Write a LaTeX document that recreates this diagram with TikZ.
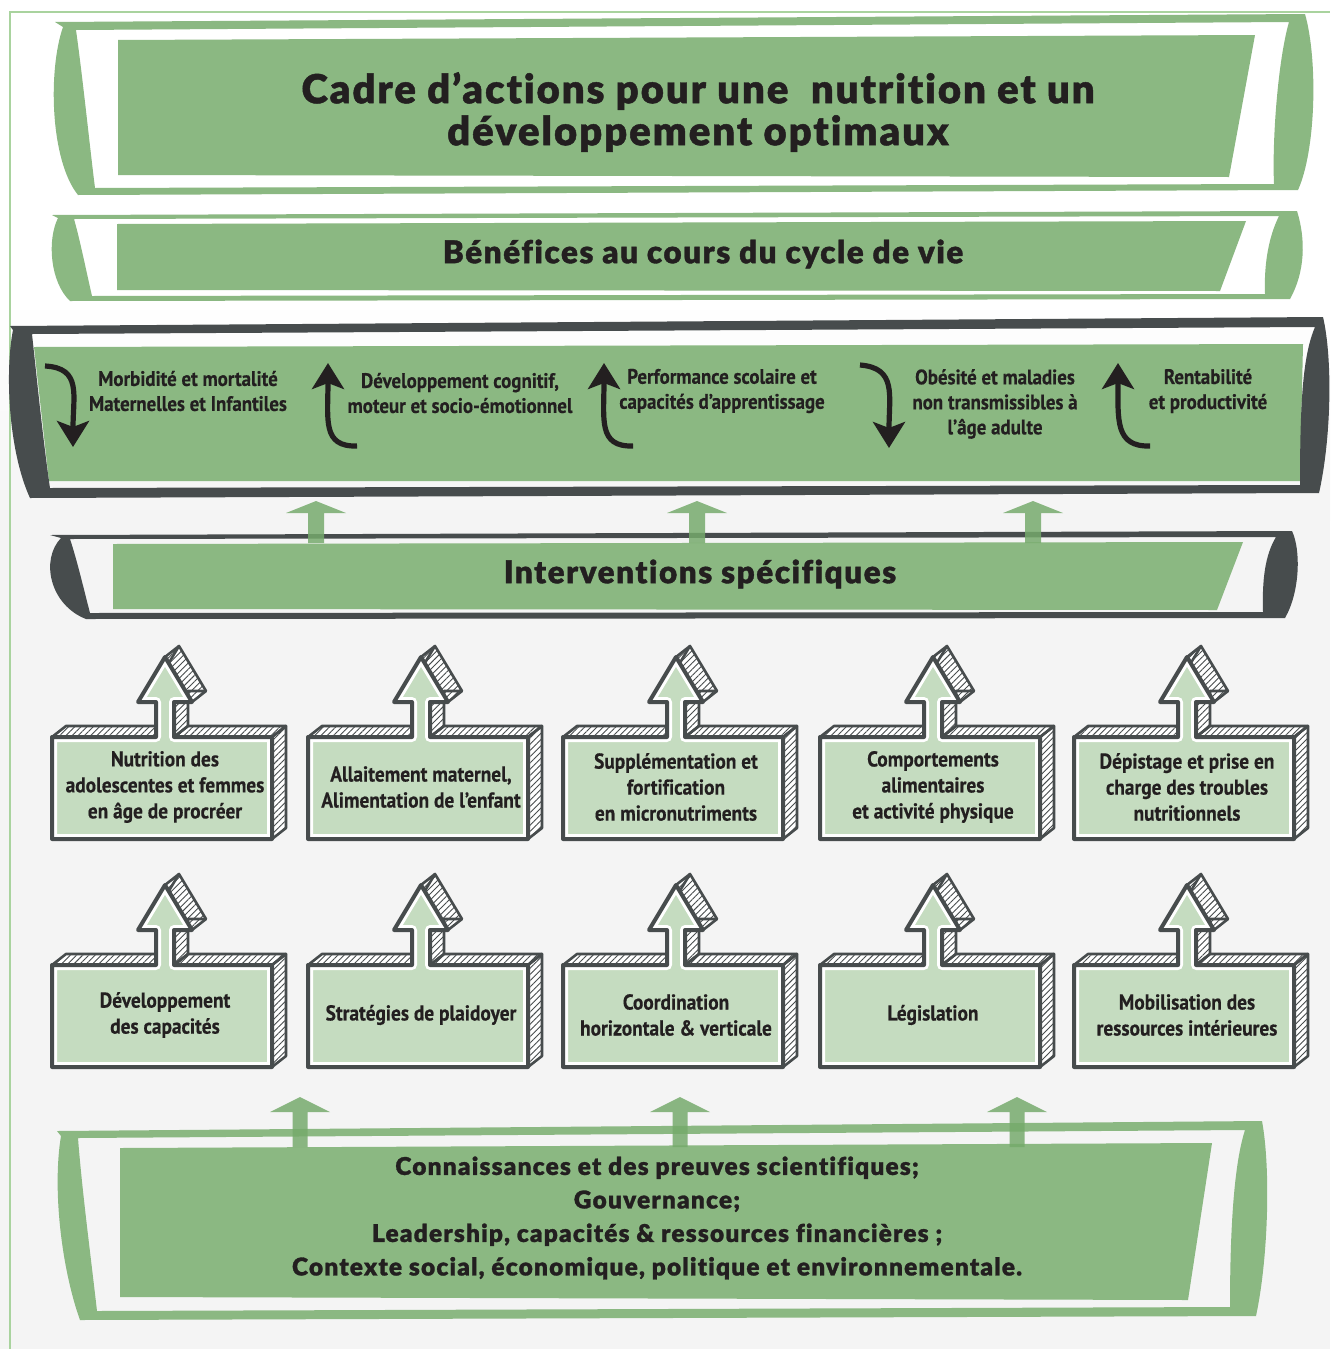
\documentclass[tikz,border=0pt]{standalone}
\usepackage{fontspec}
\usetikzlibrary{arrows.meta,patterns.meta}
\newfontfamily\headfont{Lato Black}[LetterSpace=5,FakeBold=1.2,Ligatures={NoCommon,NoContextual}]
\newfontfamily\boxfont{PT Sans}[FakeStretch=0.9,FakeBold=0.4,Ligatures=NoCommon]
\definecolor{mg}{HTML}{8BB882}
\definecolor{dk}{HTML}{474C4D}
\definecolor{lg}{HTML}{C5DCC0}
\definecolor{tx}{HTML}{231F20}
\definecolor{fr}{HTML}{A9D39E}
\definecolor{bgc}{HTML}{F4F4F4}
\definecolor{ag}{HTML}{75AA6B}
\tikzset{
 hatchface/.style={preaction={fill=white}, pattern={Lines[angle=45,distance=2.2pt,line width=0.45pt]}, pattern color=dk},
 facel/.style={draw=dk, line width=1.3pt, line join=round},
 frontl/.style={draw=dk, line width=2pt, line join=round},
 boxtxt/.style={font=\boxfont\bfseries\fontsize{10.75}{13}\selectfont, text=tx, align=center, inner sep=0pt},
 bentxt/.style={font=\boxfont\bfseries\fontsize{10.5}{12.5}\selectfont, text=tx, align=center, inner sep=0pt},
 headtxt/.style={text=tx, align=center, inner sep=0pt},
 curvarr/.style={draw=tx, line width=2.6pt, -{Stealth[length=13pt,width=16pt,inset=3pt]}},
 blockarr/.style={fill=ag, fill opacity=0.84},
}
\newcommand{\ibox}[4]{%
\begin{scope}[shift={(#1,#2)}]
\path[hatchface,shift={(14,-11)}] (0,102) -- (0,0) -- (104,0) -- (104,-35) -- (86,-35) -- (113,-80) -- (140,-35) -- (122,-35) -- (122,0) -- (220,0) -- (220,102) -- cycle;
\path[hatchface] (0,0) -- (104,0) -- (118,-11) -- (14,-11) -- cycle;
\path[hatchface] (122,-35) -- (122,0) -- (136,-11) -- (136,-46) -- cycle;
\path[hatchface] (113,-80) -- (140,-35) -- (154,-46) -- (127,-91) -- cycle;
\path[hatchface] (122,0) -- (220,0) -- (234,-11) -- (136,-11) -- cycle;
\path[hatchface] (220,0) -- (220,102) -- (234,91) -- (234,-11) -- cycle;
\draw[facel] (0,0) -- (104,0) -- (118,-11) -- (14,-11) -- cycle;
\draw[facel] (122,-35) -- (122,0) -- (136,-11) -- (136,-46) -- cycle;
\draw[facel] (113,-80) -- (140,-35) -- (154,-46) -- (127,-91) -- cycle;
\draw[facel] (122,0) -- (220,0) -- (234,-11) -- (136,-11) -- cycle;
\draw[facel] (220,0) -- (220,102) -- (234,91) -- (234,-11) -- cycle;
\draw[facel] (136,-46) -- (154,-46) (100,-46) -- (127,-91);
\fill[lg] (0,102) -- (0,0) -- (104,0) -- (104,-35) -- (86,-35) -- (113,-80) -- (140,-35) -- (122,-35) -- (122,0) -- (220,0) -- (220,102) -- cycle;
\begin{scope}
\clip (0,102) -- (0,0) -- (104,0) -- (104,-35) -- (86,-35) -- (113,-80) -- (140,-35) -- (122,-35) -- (122,0) -- (220,0) -- (220,102) -- cycle;
\draw[white,line width=5pt,line join=round] (0,102) -- (0,0) -- (104,0) -- (104,-35) -- (86,-35) -- (113,-80) -- (140,-35) -- (122,-35) -- (122,0) -- (220,0) -- (220,102) -- cycle;
\end{scope}
\draw[frontl] (0,102) -- (0,0) -- (104,0) -- (104,-35) -- (86,-35) -- (113,-80) -- (140,-35) -- (122,-35) -- (122,0) -- (220,0) -- (220,102) -- cycle;
\node[boxtxt] (#3) at (113,50) {#4};
\end{scope}}
\begin{document}
\begin{tikzpicture}[x=0.5pt,y=-0.5pt]
\useasboundingbox (0,0) rectangle (1330,1349);
\fill[white] (0,0) rectangle (1330,1349);
\shade[top color=white,bottom color=bgc] (0,300) rectangle (1330,520);
\fill[bgc] (0,519) rectangle (1330,1349);
\draw[fr, line width=1.2pt] (10,1349) -- (10,12) -- (1330,12);

% banner 1
\fill[mg, even odd rule] (55,22) -- (1305,14) .. controls (1318,60) and (1316,150) .. (1298,190) -- (78,195) .. controls (50,160) and (48,70) .. (63,27) -- cycle
 (76,30) -- (1289,22) .. controls (1278,60) and (1272,140) .. (1274,184) -- (95,188) .. controls (89,140) and (83,80) .. (76,30) -- cycle;
\fill[mg] (118,40) -- (1255,35) -- (1229,177) -- (118,175) -- cycle;
\node[headtxt, font=\headfont\fontsize{20}{21}\selectfont] (title) at (698,112) {Cadre d’actions pour une~~nutrition et un\\développement optimaux};

% banner 2
\fill[mg, even odd rule] (52,215) -- (1297,211) .. controls (1306,240) and (1305,272) .. (1290,299) -- (70,301) .. controls (50,282) and (47,240) .. (58,218) -- cycle
 (74,219) -- (1279,216) .. controls (1267,240) and (1264,270) .. (1265,294) -- (92,296) .. controls (86,270) and (80,240) .. (74,219) -- cycle;
\fill[mg] (117,224) -- (1246,221) -- (1220,291) -- (117,290) -- cycle;
\node[headtxt, font=\headfont\fontsize{15.7}{18}\selectfont] (benef) at (703,254) {Bénéfices au cours du cycle de vie};

% banner 3
\fill[mg] (34,347) -- (1303,344) -- (1300,481) -- (49,481) -- cycle;
\fill[dk, even odd rule] (10,326) -- (1323,317) .. controls (1333,360) and (1331,440) .. (1319,493) -- (30,498) .. controls (8,450) and (5,370) .. (13,330) -- cycle
 (32,334) -- (1315,327) .. controls (1303,355) and (1300,400) .. (1300,485) -- (50,488) .. controls (43,440) and (37,380) .. (32,334) -- cycle;
\draw[curvarr] (45,366) .. controls (82,368) and (73,395) .. (73,447);
\draw[curvarr] (357,446) .. controls (322,447) and (328,420) .. (328,363);
\draw[curvarr] (633,446) .. controls (598,447) and (604,420) .. (604,363);
\draw[curvarr] (860,365) .. controls (897,368) and (889,395) .. (889,448);
\draw[curvarr] (1150,446) .. controls (1115,447) and (1118,420) .. (1118,363);
\node[bentxt] (ben1) at (188,391) {Morbidité et mortalité\\Maternelles et Infantiles};
\node[bentxt] (ben2) at (460,393) {Développement cognitif,\\moteur et socio-émotionnel};
\node[bentxt] (ben3) at (722,391) {Performance scolaire et\\capacités d’apprentissage};
\node[bentxt] (ben4) at (995,404) {Obésité et maladies\\non transmissibles à\\l’âge adulte};
\node[bentxt] (ben5) at (1208,391) {Rentabilité\\et productivité};

% banner 4
\fill[mg] (113,544) -- (1243,542) -- (1217,610) -- (113,609) -- cycle;
\fill[dk, even odd rule] (50,535) -- (1292,531) .. controls (1301,550) and (1300,592) .. (1285,618) -- (86,619) .. controls (50,605) and (40,560) .. (61,538) -- cycle
 (70,539) -- (1276,537) .. controls (1265,555) and (1262,580) .. (1263,612) -- (90,613) .. controls (84,590) and (77,560) .. (70,539) -- cycle;
\node[headtxt, font=\headfont\fontsize{15.7}{18}\selectfont] (interv) at (700,574) {Interventions spécifiques};
\foreach \c in {316,697,1033}{
 \fill[blockarr] (\c-8,543) -- (\c-8,513) -- (\c-30,513) -- (\c,501) -- (\c+30,513) -- (\c+8,513) -- (\c+8,543) -- cycle;
}

% boxes
\ibox{52}{737}{b1}{Nutrition des\\adolescentes et femmes\\en âge de procréer}
\ibox{308}{737}{b2}{Allaitement maternel,\\Alimentation de l’enfant}
\ibox{563}{737}{b3}{Supplémentation et\\fortification\\en micronutriments}
\ibox{820}{737}{b4}{Comportements\\alimentaires\\et activité physique}
\ibox{1074}{737}{b5}{Dépistage et prise en\\charge des troubles\\nutritionnels}
\ibox{52}{965}{c1}{Développement\\des capacités}
\ibox{308}{965}{c2}{Stratégies de plaidoyer}
\ibox{563}{965}{c3}{Coordination\\horizontale \& verticale}
\ibox{820}{965}{c4}{Législation}
\ibox{1074}{965}{c5}{Mobilisation des\\ressources intérieures}

% banner 5
\fill[mg, even odd rule] (57,1131) -- (1262,1121) .. controls (1271,1170) and (1268,1260) .. (1256,1316) -- (80,1320) .. controls (62,1270) and (52,1190) .. (61,1136) -- cycle
 (78,1138) -- (1245,1130) .. controls (1232,1170) and (1230,1250) .. (1230,1307) -- (97,1311) .. controls (90,1250) and (82,1190) .. (78,1138) -- cycle;
\fill[mg] (120,1148) -- (1212,1143) -- (1188,1300) -- (120,1297) -- cycle;
\foreach \c in {300,680,1017}{
 \fill[blockarr] (\c-7.5,1147) -- (\c-7.5,1112) -- (\c-30,1112) -- (\c,1097) -- (\c+30,1112) -- (\c+7.5,1112) -- (\c+7.5,1147) -- cycle;
}
\node[headtxt, font=\headfont\fontsize{12.2}{16.75}\selectfont] (basis) at (657,1218) {Connaissances et des preuves scientifiques;\\Gouvernance;\\Leadership, capacités \& ressources financières ;\\Contexte social, économique, politique et environnementale.};
\end{tikzpicture}
\end{document}
